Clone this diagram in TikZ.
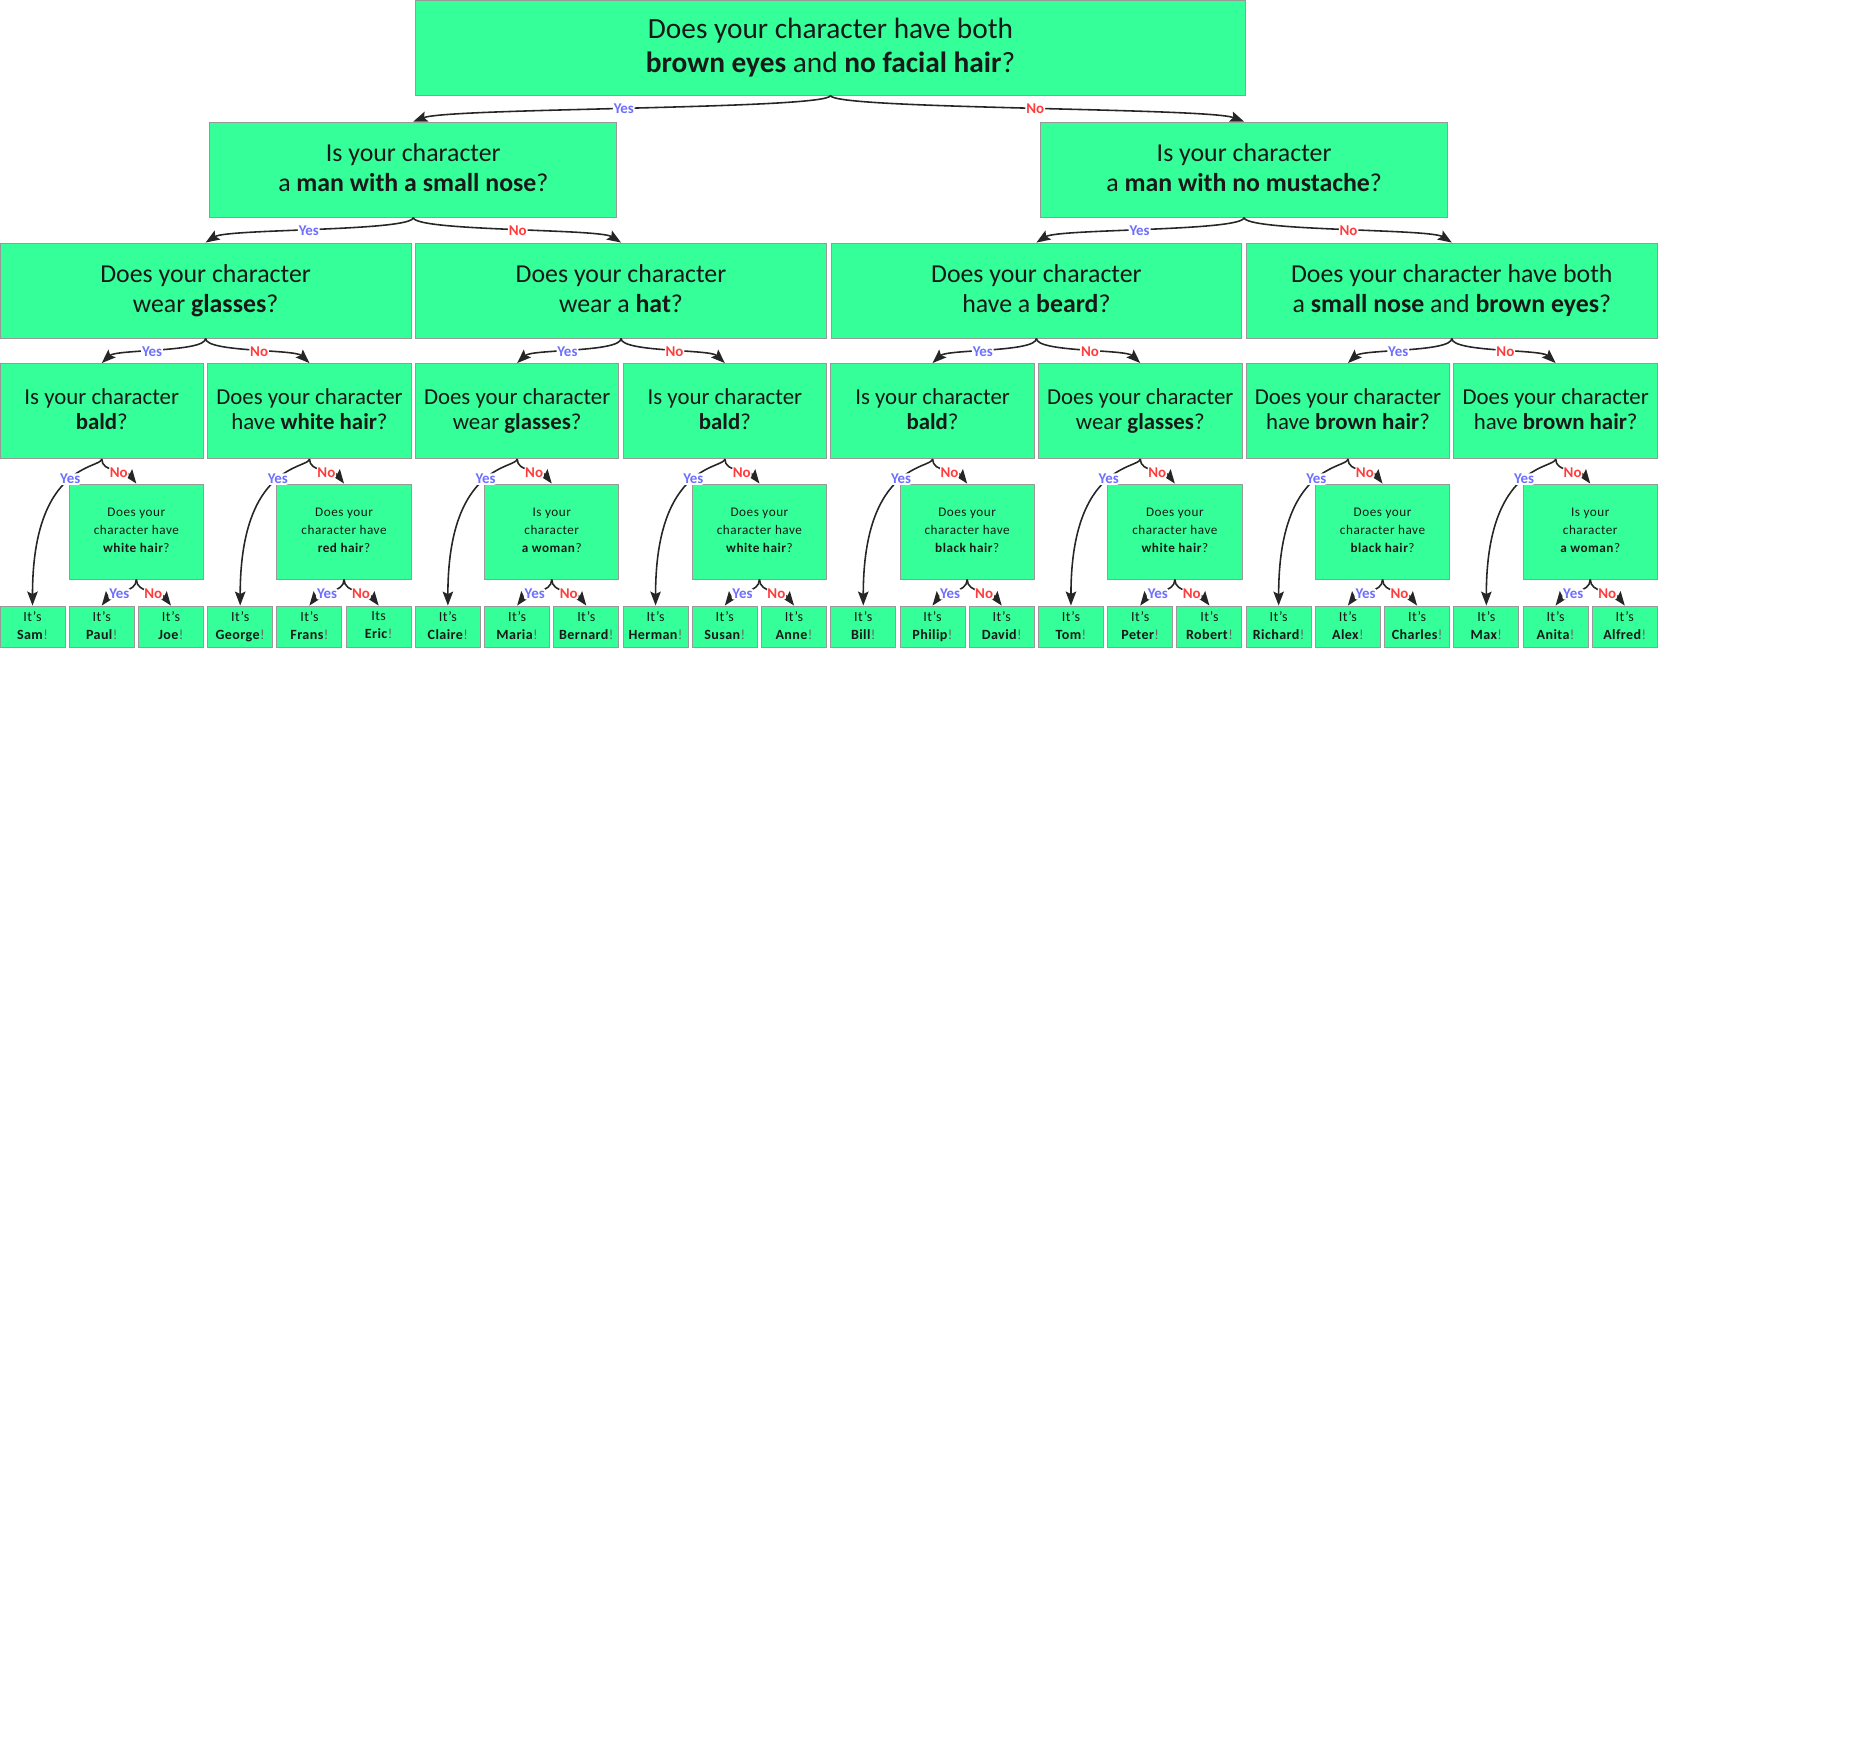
\documentclass[tikz,border=0pt]{standalone}
\usepackage{fontspec}
\setmainfont{Carlito}
\usetikzlibrary{arrows.meta}

\definecolor{boxgreen}{RGB}{52,255,153}
\definecolor{yesblue}{RGB}{110,110,255}
\definecolor{nored}{RGB}{255,60,60}

\tikzset{
	qbox/.style={draw=black!40, line width=0.5pt, fill=boxgreen, inner sep=0pt, align=center, text=black!90},
	topq/.style={qbox, minimum width=16.6cm, minimum height=1.9cm, font=\fontsize{16.7}{19.5}\selectfont},
	lvltwo/.style={qbox, minimum width=8.14cm, minimum height=1.9cm, font=\fontsize{14.7}{16.8}\selectfont},
	lvlthree/.style={qbox, minimum width=8.22cm, minimum height=1.9cm, font=\fontsize{14.7}{16.8}\selectfont},
	lvlfour/.style={qbox, minimum width=4.07cm, minimum height=1.9cm, font=\fontsize{13}{14.7}\selectfont},
	lvlfive/.style={qbox, minimum width=2.686cm, minimum height=1.9cm, font=\fontsize{7.5}{10.2}\selectfont\addfontfeature{LetterSpace=4}},
	leaf/.style={qbox, minimum width=1.3cm, minimum height=0.82cm, font=\fontsize{8}{10.2}\selectfont\addfontfeature{LetterSpace=3}},
	conn/.style={line width=0.9pt, draw=black!85, -{Stealth[length=0.28cm,width=0.21cm,inset=0.05cm]}},
	yes/.style={font=\bfseries\fontsize{8.5}{8.5}\selectfont, text=yesblue, fill=white, inner sep=0.5pt, rounded corners=1.5pt},
	no/.style={yes, text=nored},
}

\begin{document}
\begin{tikzpicture}[
		x={(0.02cm,0cm)},
		y={(0cm,-0.02cm)},
	]
	\useasboundingbox (0,0) rectangle (1850,1764);

	% questions
	\node[topq] (t) at (830.5,47.5) {Does your character have both\\\textbf{brown eyes} and \textbf{no facial hair}?\vphantom{g}};

	\foreach \k/\txt in {0/{man with a small nose}, 1/{man with no mustache}}{
		\node[lvltwo] (a\k) at ({413.3+830.8*\k},169.5) {Is your character\\a \textbf{\txt}?\vphantom{g}};
	}
	\foreach \m/\txt in {0/{Does your character\\wear \textbf{glasses}?}, 1/{Does your character\\wear a \textbf{hat}?}, 2/{Does your character\\have a \textbf{beard}?}, 3/{Does your character have both\\a \textbf{small nose} and \textbf{brown eyes}?}}{
		\node[lvlthree] (b\m) at ({205.6+415.4*\m},290.5) {\txt\vphantom{g}};
	}
	\foreach \j/\txt in {0/{Is your character\\\textbf{bald}?}, 1/{Does your character\\have \textbf{white hair}?}, 2/{Does your character\\wear \textbf{glasses}?}, 3/{Is your character\\\textbf{bald}?}, 4/{Is your character\\\textbf{bald}?}, 5/{Does your character\\wear \textbf{glasses}?}, 6/{Does your character\\have \textbf{brown hair}?}, 7/{Does your character\\have \textbf{brown hair}?}}{
		\node[lvlfour] (c\j) at ({101.75+207.7*\j},411) {\txt\vphantom{g}};
	}
	\foreach \j/\txt in {0/{Does your\\character have\\\textbf{white hair}?}, 1/{Does your\\character have\\\textbf{red hair}?}, 2/{Is your\\character\\\textbf{a woman}?}, 3/{Does your\\character have\\\textbf{white hair}?}, 4/{Does your\\character have\\\textbf{black hair}?}, 5/{Does your\\character have\\\textbf{white hair}?}, 6/{Does your\\character have\\\textbf{black hair}?}, 7/{Is your\\character\\\textbf{a woman}?}}{
		\node[lvlfive] (d\j) at ({136.35+207.7*\j},531.5) {\txt\vphantom{g}};
	}

	% answers
	\foreach \w/\n [count=\i from 0] in {It's/Sam, It's/Paul, It's/Joe, It's/George, It's/Frans, Its/Eric, It's/Claire, It's/Maria, It's/Bernard, It's/Herman, It's/Susan, It's/Anne, It's/Bill, It's/Philip, It's/David, It's/Tom, It's/Peter, It's/Robert, It's/Richard, It's/Alex, It's/Charles, It's/Max, It's/Anita, It's/Alfred}{
		\node[leaf] (e\i) at ({32.5+69.23*\i},626.5) {\w\\\textbf{\n}\textcolor{black!60}{!}\vphantom{g}};
	}

	% connectors
	\draw[conn] (t.south) .. controls +(0,14) and +(37,-14) .. node[yes,pos=0.52]{Yes} (a0.north);
	\draw[conn] (t.south) .. controls +(0,14) and +(-37,-14) .. node[no,pos=0.52]{No} (a1.north);

	\foreach \k [evaluate=\k as \l using {int(2*\k)}, evaluate=\k as \r using {int(2*\k+1)}] in {0,1}{
		\draw[conn] (a\k.south) .. controls +(0,14) and +(22,-14) .. node[yes,pos=0.53]{Yes} (b\l.north);
		\draw[conn] (a\k.south) .. controls +(0,14) and +(-22,-14) .. node[no,pos=0.53]{No} (b\r.north);
	}
	\foreach \m [evaluate=\m as \l using {int(2*\m)}, evaluate=\m as \r using {int(2*\m+1)}] in {0,...,3}{
		\draw[conn] (b\m.south) .. controls +(0,14) and +(15,-14) .. node[yes,pos=0.55]{Yes} (c\l.north);
		\draw[conn] (b\m.south) .. controls +(0,14) and +(-15,-14) .. node[no,pos=0.55]{No} (c\r.north);
	}
	\foreach \j [evaluate=\j as \s using {int(3*\j)}, evaluate=\j as \p using {int(3*\j+1)}, evaluate=\j as \q using {int(3*\j+2)}] in {0,...,7}{
		\draw[conn] (c\j.south) .. controls +(0,10) and +(0,-144) .. node[yes,pos=0.47]{Yes} (e\s.north);
		\draw[conn] (c\j.south) .. controls +(0,14) and +(-10.5,-14) .. node[no,pos=0.58]{No} (d\j.north);
		\draw[conn] (d\j.south) .. controls +(0,14) and +(10.5,-14) .. node[yes,pos=0.58]{Yes} (e\p.north);
		\draw[conn] (d\j.south) .. controls +(0,14) and +(-10.5,-14) .. node[no,pos=0.58]{No} (e\q.north);
	}
\end{tikzpicture}
\end{document}
